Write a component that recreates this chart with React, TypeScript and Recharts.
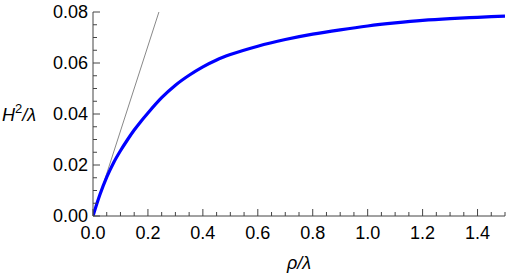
import { LineChart, Line, XAxis, YAxis } from "recharts";

// blue curve
const rho = [0, 0.025, 0.05, 0.075, 0.1, 0.125, 0.15, 0.175, 0.2, 0.25, 0.3, 0.35, 0.4, 0.45, 0.5, 0.6, 0.7, 0.8, 0.9, 1.0, 1.1, 1.2, 1.3, 1.4, 1.5];
const h2 = [0, 0.0083, 0.0152, 0.0209, 0.0256, 0.0298, 0.0337, 0.0372, 0.0404, 0.0464, 0.0513, 0.0552, 0.0585, 0.0612, 0.0633, 0.0666, 0.0692, 0.0713, 0.073, 0.0745, 0.0757, 0.0767, 0.0774, 0.0779, 0.0784];

// thin gray tangent through the origin
const tangentRho = [0, 0.24];
const tangentH2 = [0, 0.08];

const xMajor = [0, 0.2, 0.4, 0.6, 0.8, 1.0, 1.2, 1.4];
const yMajor = [0, 0.02, 0.04, 0.06, 0.08];
const xTicks = Array.from({ length: 31 }, (_, i) => +(i * 0.05).toFixed(2));
const yTicks = Array.from({ length: 17 }, (_, i) => +(i * 0.005).toFixed(3));

const curve = rho.map((r, i) => ({ rho: r, h2: h2[i] }));
const tangent = tangentRho.map((r, i) => ({ rho: r, h2: tangentH2[i] }));

const FRAME = "#444";
const FONT = "'Liberation Sans', Arial, sans-serif";
const FS = 18;
const X_GAP = 10;
const Y_GAP = 5;

const isMajor = (v: number, list: number[]) => list.some((m) => Math.abs(m - v) < 1e-6);

const BottomTick = (props: any) => {
  const { x, y, payload } = props;
  const v = payload.value;
  const major = isMajor(v, xMajor);
  const axisY = y - X_GAP;
  return (
    <g>
      <line x1={x} x2={x} y1={axisY} y2={axisY - (major ? 7 : 4)} stroke={FRAME} />
      {major && (
        <text x={x} y={y} dy="0.72em" textAnchor="middle" fontFamily={FONT} fontSize={FS} fill="#000">
          {v.toFixed(1)}
        </text>
      )}
    </g>
  );
};

const LeftTick = (props: any) => {
  const { x, y, payload } = props;
  const v = payload.value;
  const major = isMajor(v, yMajor);
  const axisX = x + Y_GAP;
  return (
    <g>
      <line x1={axisX} x2={axisX + (major ? 7 : 4)} y1={y} y2={y} stroke={FRAME} />
      {major && (
        <text x={x} y={y} dy="0.36em" textAnchor="end" fontFamily={FONT} fontSize={FS} fill="#000">
          {v.toFixed(2)}
        </text>
      )}
    </g>
  );
};

const TopTick = (props: any) => {
  const { x, y, payload } = props;
  const major = isMajor(payload.value, xMajor);
  return <line x1={x} x2={x} y1={y} y2={y + (major ? 7 : 4)} stroke={FRAME} />;
};

const RightTick = (props: any) => {
  const { x, y, payload } = props;
  const major = isMajor(payload.value, yMajor);
  return <line x1={x} x2={x - (major ? 7 : 4)} y1={y} y2={y} stroke={FRAME} />;
};

const XLabel = (props: any) => {
  const { x, y, width } = props.viewBox;
  return (
    <text x={x + width / 2} y={y + 53} textAnchor="middle" fontFamily={FONT} fontSize={FS} fontStyle="italic" fill="#000">
      ρ/λ
    </text>
  );
};

const YLabel = (props: any) => {
  const { y, height } = props.viewBox;
  return (
    <text x={2} y={y + height / 2 + 7} fontFamily={FONT} fontSize={FS} fill="#000">
      <tspan fontStyle="italic">H</tspan>
      <tspan fontSize={13} dy={-8}>2</tspan>
      <tspan dy={8} fontStyle="italic">/λ</tspan>
    </text>
  );
};

export default function App() {
  return (
    <div style={{ position: "absolute", left: 0, top: 0, background: "#fff" }}>
      <LineChart width={506} height={278} margin={{ top: 12, right: 1, bottom: 0, left: 0 }}>
        <XAxis
          xAxisId="b"
          dataKey="rho"
          type="number"
          domain={[0, 1.5]}
          ticks={xTicks}
          interval={0}
          allowDataOverflow
          height={62}
          tickSize={0}
          tickMargin={X_GAP}
          tickLine={false}
          axisLine={{ stroke: FRAME }}
          tick={<BottomTick />}
          label={<XLabel />}
        />
        <XAxis
          xAxisId="t"
          orientation="top"
          dataKey="rho"
          type="number"
          domain={[0, 1.5]}
          ticks={xTicks}
          interval={0}
          allowDataOverflow
          height={0}
          tickSize={0}
          tickMargin={0}
          tickLine={false}
          axisLine={{ stroke: FRAME }}
          tick={<TopTick />}
        />
        <YAxis
          yAxisId="l"
          type="number"
          domain={[0, 0.08]}
          ticks={yTicks}
          interval={0}
          allowDataOverflow
          width={93}
          tickSize={0}
          tickMargin={Y_GAP}
          tickLine={false}
          axisLine={{ stroke: FRAME }}
          tick={<LeftTick />}
          label={<YLabel />}
        />
        <YAxis
          yAxisId="r"
          orientation="right"
          type="number"
          domain={[0, 0.08]}
          ticks={yTicks}
          interval={0}
          allowDataOverflow
          width={0}
          tickSize={0}
          tickMargin={0}
          tickLine={false}
          axisLine={{ stroke: FRAME }}
          tick={<RightTick />}
        />
        <Line
          xAxisId="t"
          yAxisId="r"
          data={tangent}
          dataKey="h2"
          type="linear"
          stroke="#888"
          strokeWidth={1}
          dot={false}
          isAnimationActive={false}
        />
        <Line
          xAxisId="b"
          yAxisId="l"
          data={curve}
          dataKey="h2"
          type="monotone"
          stroke="#0000ff"
          strokeWidth={3.2}
          dot={false}
          isAnimationActive={false}
        />
      </LineChart>
    </div>
  );
}
